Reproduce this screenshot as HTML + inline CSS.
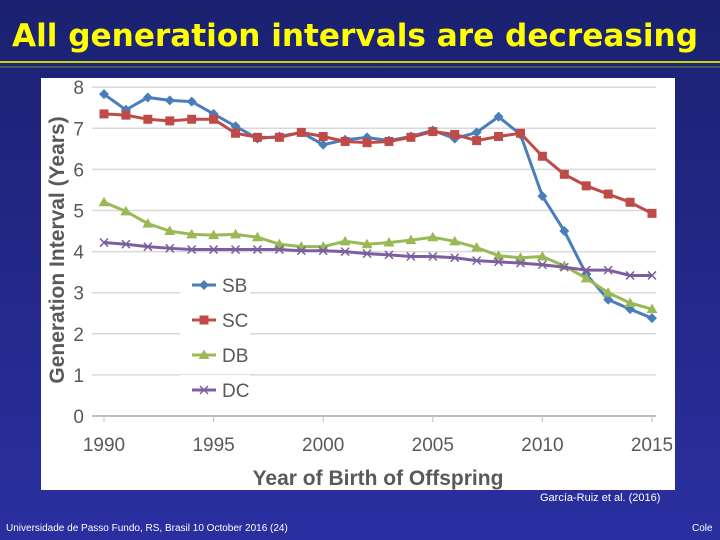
<!DOCTYPE html>
<html><head><meta charset="utf-8"><style>
html,body{margin:0;padding:0;width:720px;height:540px;overflow:hidden;background:#232a8c}
svg{display:block;font-family:"Liberation Sans",sans-serif}
</style></head><body>
<svg id="s" width="720" height="540" viewBox="0 0 720 540">
<defs><linearGradient id="bg" x1="0" y1="0" x2="0" y2="1"><stop offset="0" stop-color="#1b2170"/><stop offset="1" stop-color="#2a2fa0"/></linearGradient></defs>
<rect width="720" height="540" fill="url(#bg)"/>
<text x="12" y="46" fill="#ffff00" font-size="31" font-weight="bold" textLength="686" lengthAdjust="spacingAndGlyphs" font-family="DejaVu Sans, sans-serif">All generation intervals are decreasing</text>
<line x1="0" y1="62" x2="720" y2="62" stroke="#c8d200" stroke-width="2"/>
<line x1="0" y1="67" x2="720" y2="67" stroke="#6a8a40" stroke-width="1"/>
<rect x="41" y="78" width="634" height="412" fill="#fff"/>
<g id="grid"></g><g id="plot"></g>
<text x="540" y="501" fill="#fff" font-size="11">García-Ruiz et al. (2016)</text>
<text x="6" y="531" fill="#fff" font-size="10">Universidade de Passo Fundo, RS, Brasil 10 October 2016 (24)</text>
<text x="692" y="531" fill="#fff" font-size="10">Cole</text>
</svg>
<script>
const years=[1990,1991,1992,1993,1994,1995,1996,1997,1998,1999,2000,2001,2002,2003,2004,2005,2006,2007,2008,2009,2010,2011,2012,2013,2014,2015];
const sb=[7.83,7.45,7.75,7.68,7.65,7.35,7.05,6.75,6.8,6.9,6.6,6.72,6.78,6.7,6.8,6.95,6.75,6.9,7.28,6.85,5.35,4.5,3.45,2.83,2.6,2.38];
const sc=[7.35,7.32,7.22,7.18,7.22,7.22,6.88,6.78,6.78,6.9,6.8,6.68,6.65,6.68,6.78,6.92,6.85,6.7,6.8,6.88,6.32,5.88,5.6,5.4,5.2,4.93];
const db=[5.2,4.98,4.68,4.5,4.42,4.4,4.42,4.35,4.18,4.12,4.12,4.25,4.18,4.22,4.28,4.35,4.25,4.1,3.9,3.85,3.88,3.65,3.35,3.0,2.75,2.6];
const dc=[4.22,4.18,4.12,4.08,4.05,4.05,4.05,4.05,4.05,4.02,4.02,4.0,3.95,3.92,3.88,3.88,3.85,3.78,3.75,3.72,3.68,3.62,3.55,3.55,3.42,3.42];
const yTicks=[0,1,2,3,4,5,6,7,8];
const xTicks=[1990,1995,2000,2005,2010,2015];
const NS="http://www.w3.org/2000/svg";
const X=v=>104+(v-1990)*(548/25), Y=v=>416-v*41.1;
function mk(t,a,p){const e=document.createElementNS(NS,t);for(const k in a)e.setAttribute(k,a[k]);p.appendChild(e);return e;}
const g=document.getElementById('grid'),p=document.getElementById('plot');
yTicks.forEach(v=>{
 const l=mk('line',{x1:92,x2:656,y1:Y(v),y2:Y(v),stroke:v?'#d9d9d9':'#bfbfbf','stroke-width':v?1.5:2},g);
 
 
 const t=mk('text',{x:84,y:Y(v)+7,'text-anchor':'end','font-size':19,fill:'#595959'},g);t.textContent=v;
 
 
});
xTicks.forEach(v=>{
 mk('line',{x1:X(v),x2:X(v),y1:416,y2:422,stroke:'#bfbfbf'},g);
 const t=mk('text',{x:X(v),y:451,'text-anchor':'middle','font-size':19,fill:'#595959'},g);t.textContent=v;
 
 
});
let t=mk('text',{x:378,y:485,'text-anchor':'middle','font-size':21,'font-weight':'bold',fill:'#595959'},g);t.textContent='Year of Birth of Offspring';


t=mk('text',{x:0,y:0,'text-anchor':'middle','font-size':21,'font-weight':'bold',fill:'#595959',transform:'translate(64,250) rotate(-90)'},g);t.textContent='Generation Interval (Years)';


const series=[['SB',sb,'#4a7ebb','d'],['SC',sc,'#be4b48','s'],['DB',db,'#98b954','t'],['DC',dc,'#7d5fa0','x']];
function marker(type,x,y,c,par){
 if(type=='d')return mk('path',{d:`M${x} ${y-5}L${x+5} ${y}L${x} ${y+5}L${x-5} ${y}Z`,fill:c},par);
 if(type=='s')return mk('rect',{x:x-4.5,y:y-4.5,width:9,height:9,fill:c},par);
 if(type=='t')return mk('path',{d:`M${x} ${y-5.5}L${x+5.5} ${y+4}L${x-5.5} ${y+4}Z`,fill:c},par);
 return mk('path',{d:`M${x-4} ${y-4}L${x+4} ${y+4}M${x+4} ${y-4}L${x-4} ${y+4}`,stroke:c,'stroke-width':1.5,fill:'none'},par);
}
series.forEach(([name,vals,c,m],si)=>{
 const gr=mk('g',{},p);
 
 
 mk('polyline',{points:vals.map((v,i)=>X(years[i])+','+Y(v)).join(' '),fill:'none',stroke:c,'stroke-width':3},gr);
 vals.forEach((v,i)=>{const mm=marker(m,X(years[i]),Y(v),c,gr);
  
  });
 const ly=285+si*35;
 const lg=mk('g',{},p);
 
 
 mk('rect',{x:180,y:ly-15,width:70,height:30,fill:'#fff'},lg);
 mk('line',{x1:192,x2:216,y1:ly,y2:ly,stroke:c,'stroke-width':3},lg);
 marker(m,204,ly,c,lg);
 const lt=mk('text',{x:222,y:ly+7,'font-size':19,fill:'#595959'},lg);lt.textContent=name;
});
</script>
</body></html>
